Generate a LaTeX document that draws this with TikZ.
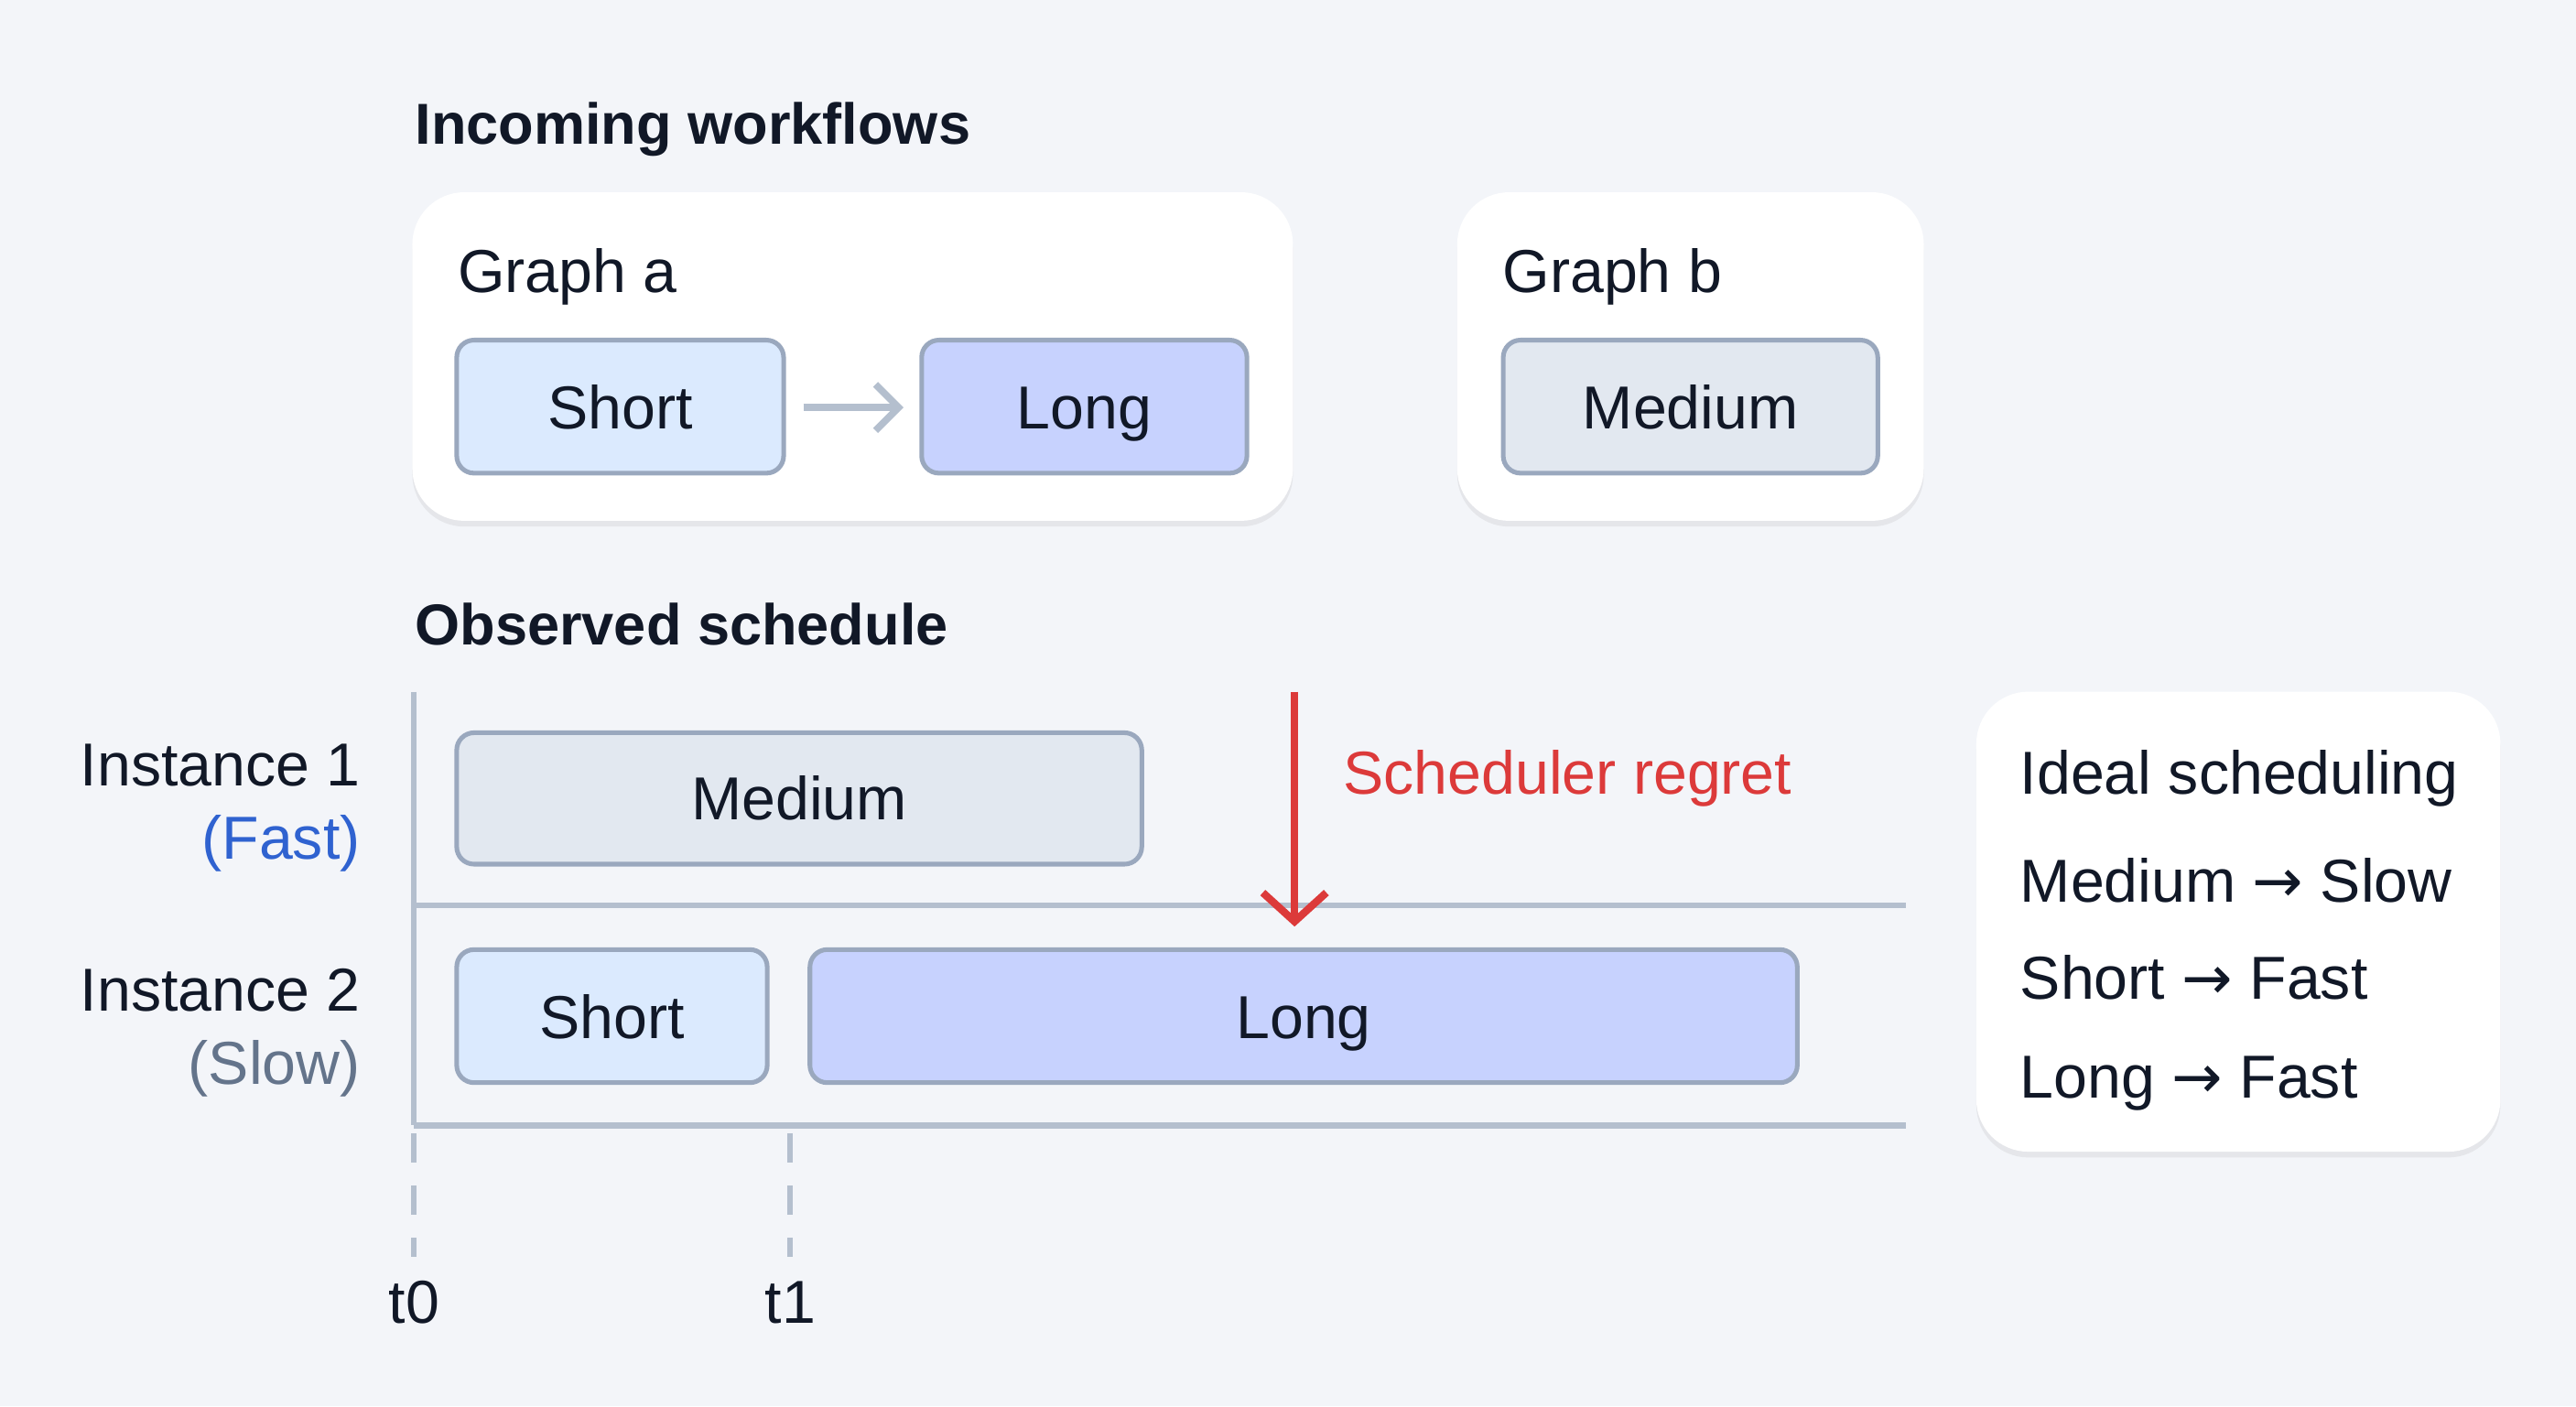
\documentclass[tikz,border=0pt]{standalone}
\usepackage{fontspec}
\setmainfont{Liberation Sans}
\newfontfamily\arr{DejaVu Sans}
\usetikzlibrary{arrows.meta,shadows}
\definecolor{bg}{HTML}{F3F5F9}
\definecolor{ink}{HTML}{111827}
\definecolor{bord}{HTML}{9AA8BE}
\definecolor{cshort}{HTML}{DBEAFE}
\definecolor{clong}{HTML}{C7D2FE}
\definecolor{cmed}{HTML}{E2E8F0}
\definecolor{axis}{HTML}{B4BFCE}
\definecolor{rred}{HTML}{DC3A3A}
\definecolor{fblue}{HTML}{2F62D0}
\definecolor{sgray}{HTML}{64748B}
\tikzset{
  card/.style={fill=white,rounded corners=9pt,draw=none,drop shadow={shadow xshift=0pt,shadow yshift=-1pt,opacity=0.12}},
  task/.style={draw=bord,line width=0.8pt,rounded corners=3pt},
  lbl/.style={font=\fontsize{10.5}{12}\selectfont,text=ink,text height=7.5pt,text depth=0pt,inner sep=0pt},
  head/.style={font=\fontsize{10}{12}\selectfont\bfseries,text=ink,anchor=west,text height=7.2pt,text depth=0pt,inner sep=0pt},
}
\begin{document}
\begin{tikzpicture}[x=0.01cm,y=-0.01cm]
\fill[bg] (0,0) rectangle (1568,856);
\node[head] (h1) at (252,75) {Incoming workflows};
\node[head] (h2) at (252,380) {Observed schedule};
% graph a
\path[card] (251,117) rectangle (787,317);
\node[lbl,anchor=west] (ga) at (278,165) {Graph a};
\draw[task,fill=cshort] (278,207) rectangle (477,288);
\node[lbl] (sa) at (377.5,248) {Short};
\draw[task,fill=clong] (561,207) rectangle (759,288);
\node[lbl] (la) at (660,248) {Long};
\coordinate (a1) at (489,248); \coordinate (a2) at (550,248);
\draw[axis,line width=1.2pt,-{Straight Barb[length=4pt,width=8pt]}] (a1) -- (a2);
% graph b
\path[card] (887,117) rectangle (1171,317);
\node[lbl,anchor=west] (gb) at (914,165) {Graph b};
\draw[task,fill=cmed] (915,207) rectangle (1143,288);
\node[lbl] (mb) at (1029,248) {Medium};
% axes
\coordinate (v0) at (252,421); \coordinate (v1) at (252,685);
\draw[axis,line width=1pt] (v0) -- (v1);
\coordinate (h1a) at (252,551); \coordinate (h1b) at (1160,551);
\coordinate (h2a) at (252,685); \coordinate (h2b) at (1160,685);
\draw[axis,line width=1pt] (h1a) -- (h1b);
\draw[axis,line width=1pt] (h2a) -- (h2b);
\coordinate (d0a) at (252,690); \coordinate (d0b) at (252,765);
\coordinate (d1a) at (481,690); \coordinate (d1b) at (481,765);
\draw[axis,line width=1pt,dash pattern=on 5pt off 4pt] (d0a) -- (d0b);
\draw[axis,line width=1pt,dash pattern=on 5pt off 4pt] (d1a) -- (d1b);
\node[lbl] (t0) at (252,792) {t0};
\node[lbl] (t1) at (481,792) {t1};
% instance labels
\node[lbl,anchor=east] (i1) at (220,465) {Instance 1};
\node[lbl,anchor=east,text=fblue] (f1) at (220,510) {(Fast)};
\node[lbl,anchor=east] (i2) at (220,602) {Instance 2};
\node[lbl,anchor=east,text=sgray] (s2) at (220,647) {(Slow)};
% bars
\draw[task,fill=cmed] (278,446) rectangle (695,526);
\node[lbl] (m1) at (486.5,486) {Medium};
\draw[task,fill=cshort] (278,578) rectangle (467,659);
\node[lbl] (s1) at (372.5,619) {Short};
\draw[task,fill=clong] (493,578) rectangle (1094,659);
\node[lbl] (l1) at (793.5,619) {Long};
% regret
\coordinate (r0) at (788,421); \coordinate (r1) at (788,564);
\draw[rred,line width=1.3pt,-{Straight Barb[length=5pt,width=11pt]}] (r0) -- (r1);
\node[lbl,anchor=west,text=rred] (rg) at (817,470) {Scheduler regret};
% ideal
\path[card] (1203,421) rectangle (1522,701);
\node[lbl,anchor=west] (id) at (1229,470) {Ideal scheduling};
\node[lbl,anchor=west] (id1) at (1229,536) {Medium {\arr→} Slow};
\node[lbl,anchor=west] (id2) at (1229,595) {Short {\arr→} Fast};
\node[lbl,anchor=west] (id3) at (1229,655) {Long {\arr→} Fast};
\end{tikzpicture}
\end{document}
